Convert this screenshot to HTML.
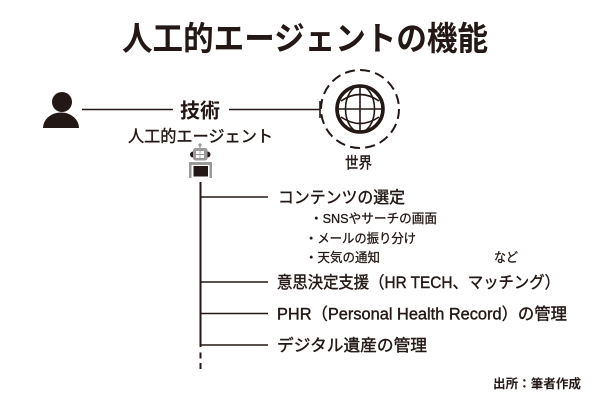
<!DOCTYPE html>
<html>
<head>
<meta charset="utf-8">
<style>
html,body{margin:0;padding:0;background:#fff;}
svg{display:block;}
text{font-family:"Liberation Sans","Noto Sans CJK JP",sans-serif;fill:#231815;}
.m{stroke:#231815;stroke-width:0.4;}
.s{stroke:#231815;stroke-width:0.3;}
</style>
</head>
<body>
<svg width="600" height="400" viewBox="0 0 600 400" xmlns="http://www.w3.org/2000/svg">
  <rect width="600" height="400" fill="#fff"/>

  <!-- Title -->
  <text x="122" y="50" font-size="33" font-weight="bold" textLength="366" lengthAdjust="spacingAndGlyphs">人工的エージェントの機能</text>

  <!-- Person icon -->
  <circle cx="62" cy="102" r="10" fill="#231815"/>
  <path d="M43,128 A18,15.5 0 0 1 79,128 Z" fill="#231815"/>

  <!-- Connector lines -->
  <line x1="82" y1="109.5" x2="173" y2="109.5" stroke="#231815" stroke-width="1.6"/>
  <line x1="229" y1="109.5" x2="320" y2="109.5" stroke="#231815" stroke-width="1.6"/>
  <line x1="320" y1="101" x2="320" y2="118" stroke="#231815" stroke-width="1.6"/>
  <text x="180" y="117.5" font-size="20" font-weight="bold" textLength="40" lengthAdjust="spacingAndGlyphs">技術</text>

  <!-- Globe -->
  <circle cx="360" cy="109" r="39" fill="none" stroke="#231815" stroke-width="2" stroke-dasharray="10 5.3"/>
  <circle cx="360" cy="109" r="23" fill="none" stroke="#231815" stroke-width="3.6"/>
  <g fill="none" stroke="#231815" stroke-width="1.6">
    <line x1="360" y1="86" x2="360" y2="132"/>
    <line x1="337" y1="109" x2="383" y2="109"/>
    <ellipse cx="360" cy="109" rx="14.5" ry="23"/>
    <path d="M341,101 Q360,88 379,101"/>
    <path d="M341,117 Q360,130 379,117"/>
  </g>
  <text class="m" x="345" y="168" font-size="15.5" textLength="27" lengthAdjust="spacingAndGlyphs">世界</text>

  <!-- Agent label -->
  <text class="m" x="128" y="142" font-size="16.5" textLength="145" lengthAdjust="spacingAndGlyphs">人工的エージェント</text>

  <!-- Robot -->
  <circle cx="200" cy="145" r="1.6" fill="#9a9a9a"/>
  <line x1="200" y1="145" x2="200" y2="148.5" stroke="#9a9a9a" stroke-width="1.2"/>
  <path d="M193,157.5 a3,3 0 0 1 0,-6 z" fill="#231815"/>
  <path d="M207.5,151.5 a3,3 0 0 1 0,6 z" fill="#231815"/>
  <rect x="193" y="148" width="14.5" height="12.5" rx="2.5" fill="#9a9a9a"/>
  <rect x="196" y="151" width="3.6" height="3" fill="#fff"/>
  <rect x="200.4" y="151" width="3.6" height="3" fill="#fff"/>
  <rect x="196" y="155" width="3.6" height="3" fill="#fff"/>
  <rect x="200.4" y="155" width="3.6" height="3" fill="#fff"/>
  <rect x="189" y="162" width="23" height="16" fill="#9a9a9a"/>
  <rect x="191.5" y="165" width="18" height="13" fill="#fff"/>
  <rect x="193.5" y="166" width="14.5" height="10.5" fill="#231815"/>

  <!-- Tree -->
  <g stroke="#231815">
    <line x1="200.5" y1="182" x2="200.5" y2="347" stroke-width="2"/>
    <line x1="200.5" y1="352.5" x2="200.5" y2="358.5" stroke-width="2"/>
    <line x1="200.5" y1="363" x2="200.5" y2="369" stroke-width="2"/>
    <line x1="200" y1="197" x2="268" y2="197" stroke-width="1.6"/>
    <line x1="200" y1="282" x2="268" y2="282" stroke-width="1.6"/>
    <line x1="200" y1="313.5" x2="268" y2="313.5" stroke-width="1.6"/>
    <line x1="200" y1="345" x2="268" y2="345" stroke-width="1.6"/>
  </g>

  <text class="m" x="278" y="203" font-size="16.5" textLength="127" lengthAdjust="spacingAndGlyphs">コンテンツの選定</text>
  <text class="s" x="310" y="223" font-size="13" textLength="127" lengthAdjust="spacingAndGlyphs">・SNSやサーチの画面</text>
  <text class="s" x="305" y="243" font-size="13" textLength="111" lengthAdjust="spacingAndGlyphs">・メールの振り分け</text>
  <text class="s" x="305" y="262" font-size="13" textLength="75" lengthAdjust="spacingAndGlyphs">・天気の通知</text>
  <text class="s" x="494" y="262" font-size="13" textLength="24" lengthAdjust="spacingAndGlyphs">など</text>

  <text class="m" x="277" y="288" font-size="16.5" textLength="283" lengthAdjust="spacingAndGlyphs">意思決定支援（HR TECH、マッチング）</text>
  <text class="m" x="277" y="319.5" font-size="16.5" textLength="290" lengthAdjust="spacingAndGlyphs">PHR（Personal Health Record）の管理</text>
  <text class="m" x="277" y="351" font-size="16.5" textLength="150" lengthAdjust="spacingAndGlyphs">デジタル遺産の管理</text>

  <text x="493" y="388" font-size="12.5" font-weight="bold" textLength="88" lengthAdjust="spacingAndGlyphs">出所：筆者作成</text>
</svg>
</body>
</html>
